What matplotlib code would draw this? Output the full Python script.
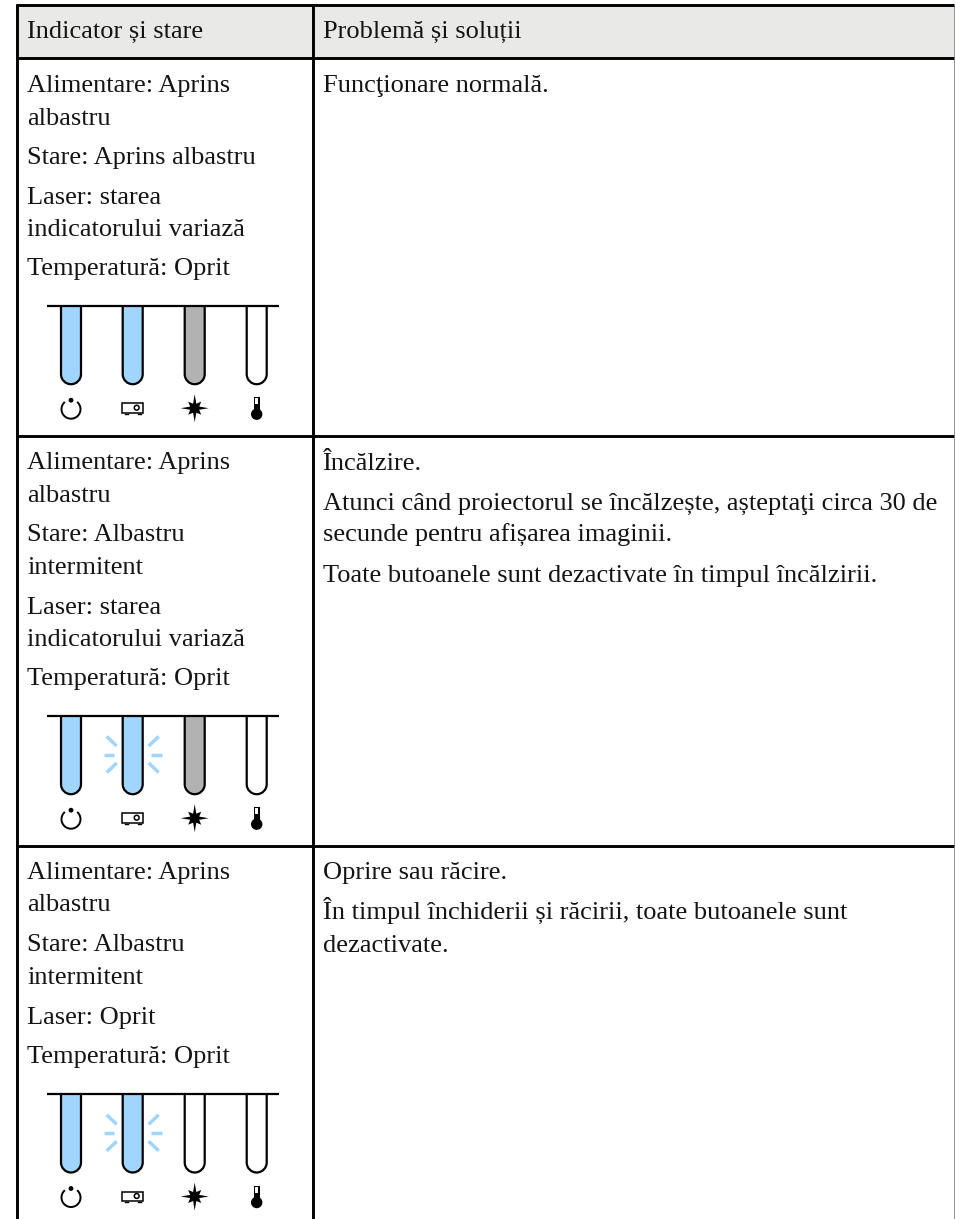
import matplotlib
matplotlib.use('Agg')
import matplotlib.pyplot as plt
from matplotlib.patches import PathPatch, Circle, Rectangle, Arc, Polygon
from matplotlib.path import Path

plt.rcParams['font.family'] = ['Liberation Serif', 'DejaVu Serif']

header = ['Indicator și stare', 'Problemă și soluții']
# text, baseline in pixels
left_rows = [
    [('Alimentare: Aprins', 92), ('albastru', 124.7), ('Stare: Aprins albastru', 164.3), ('Laser: starea', 203.7),
     ('indicatorului variază', 236.3), ('Temperatură: Oprit', 275.3)],
    [('Alimentare: Aprins', 469.3), ('albastru', 502), ('Stare: Albastru', 541.3), ('intermitent', 574),
     ('Laser: starea', 613.7), ('indicatorului variază', 646), ('Temperatură: Oprit', 685.3)],
    [('Alimentare: Aprins', 878.7), ('albastru', 911.3), ('Stare: Albastru', 951), ('intermitent', 983.7),
     ('Laser: Oprit', 1023.7), ('Temperatură: Oprit', 1063)],
]
right_rows = [
    [('Funcţionare normală.', 92)],
    [('Încălzire.', 470), ('Atunci când proiectorul se încălzește, așteptaţi circa 30 de', 510.3),
     ('secunde pentru afișarea imaginii.', 542), ('Toate butoanele sunt dezactivate în timpul încălzirii.', 582)],
    [('Oprire sau răcire.', 878.7), ('În timpul închiderii și răcirii, toate butoanele sunt', 919),
     ('dezactivate.', 951.7)],
]
BLUE = '#a0d5ff'
GREY = '#b2b2b2'
tube_colors = [
    [BLUE, BLUE, GREY, 'white'],
    [BLUE, BLUE, GREY, 'white'],
    [BLUE, BLUE, 'white', 'white'],
]
line_y = [305.7, 715.7, 1094]
blink = [False, True, True]
tube_x = [71, 132.7, 194.7, 256.7]
FS = 19
TXT = '#141414'

fig = plt.figure(figsize=(9.55, 12.19), dpi=100)
ax = fig.add_axes((0, 0, 1, 1))
ax.set_xlim(0, 955)
ax.set_ylim(1219, 0)
ax.axis('off')


def tube(x, top, color):
    w, h = 10, 78.5
    k = 0.5523 * w
    verts = [(x - w, top), (x - w, top + h - w), (x - w, top + h - w + k), (x - k, top + h), (x, top + h),
             (x + k, top + h), (x + w, top + h - w + k), (x + w, top + h - w), (x + w, top)]
    codes = [Path.MOVETO, Path.LINETO, Path.CURVE4, Path.CURVE4, Path.CURVE4, Path.CURVE4, Path.CURVE4, Path.CURVE4,
             Path.LINETO]
    ax.add_patch(PathPatch(Path(verts, codes), fc=color, ec='black', lw=1.6, capstyle='butt'))


def icons(y):
    # power
    ax.add_patch(Arc((tube_x[0], y + 1), 19, 19, theta1=-50, theta2=230, color='black', lw=1.4))
    ax.add_patch(Circle((tube_x[0], y - 8), 1.7, color='black'))
    # projector
    px = tube_x[1]
    ax.add_patch(Rectangle((px - 10.5, y - 5), 21, 9.5, fc='white', ec='black', lw=1.1))
    ax.add_patch(Circle((px + 4, y - 0.5), 2.4, fc='white', ec='black', lw=1.1))
    ax.plot([px - 8, px - 5], [y + 5.5, y + 5.5], color='black', lw=1)
    ax.plot([px + 5, px + 8], [y + 5.5, y + 5.5], color='black', lw=1)
    # laser star
    sx = tube_x[2]
    pts = []
    for dx, dy in [(0, -14), (1.6, -4.5), (6.5, -6.5), (4.5, -1.6), (14, 0), (4.5, 1.6), (6.5, 6.5), (1.6, 4.5),
                   (0, 14), (-1.6, 4.5), (-6.5, 6.5), (-4.5, 1.6), (-14, 0), (-4.5, -1.6), (-6.5, -6.5),
                   (-1.6, -4.5)]:
        pts.append((sx + dx, y + dy))
    ax.add_patch(Polygon(pts, closed=True, fc='black', ec='none'))
    # thermometer
    tx = tube_x[3]
    ax.add_patch(Rectangle((tx - 3, y - 11), 6, 16, fc='black', ec='none'))
    ax.add_patch(Rectangle((tx - 1.5, y - 10), 3, 6, fc='white', ec='none'))
    ax.add_patch(Circle((tx, y + 6), 5, color='black'))


def rays(x, y):
    for sign in (-1, 1):
        ax.plot([x + sign * 18.5, x + sign * 29], [y, y], color=BLUE, lw=2.5, solid_capstyle='butt')
        ax.plot([x + sign * 16, x + sign * 26], [y - 8.5, y - 18], color=BLUE, lw=2.5, solid_capstyle='butt')
        ax.plot([x + sign * 16, x + sign * 26], [y + 8.5, y + 18], color=BLUE, lw=2.5, solid_capstyle='butt')


# table frame
ax.add_patch(Rectangle((16.5, 5), 938, 53, fc='#e9e9e8', ec='none'))
for y in [5, 58, 435.7, 846]:
    ax.plot([16, 955], [y, y], color='black', lw=2.1, solid_capstyle='butt')
for x in [16.7, 313.3]:
    ax.plot([x, x], [4, 1219], color='black', lw=2.1, solid_capstyle='butt')
ax.plot([954.5, 954.5], [4, 1219], color='#808080', lw=1.2, solid_capstyle='butt')

ax.text(27, 38, header[0], fontsize=FS, va='baseline', color=TXT)
ax.text(323, 38, header[1], fontsize=FS, va='baseline', color=TXT)
for rows in left_rows:
    for txt, y in rows:
        ax.text(27, y, txt, fontsize=FS, va='baseline', color=TXT)
for rows in right_rows:
    for txt, y in rows:
        ax.text(323, y, txt, fontsize=FS, va='baseline', color=TXT)

for i, ly in enumerate(line_y):
    if blink[i]:
        rays(tube_x[1], ly + 38.8)
    for x, c in zip(tube_x, tube_colors[i]):
        tube(x, ly, c)
    ax.plot([47, 279], [ly, ly], color='black', lw=1.6, solid_capstyle='butt')
    icons(ly + 102.5)

fig.savefig('out.png', dpi=100)
